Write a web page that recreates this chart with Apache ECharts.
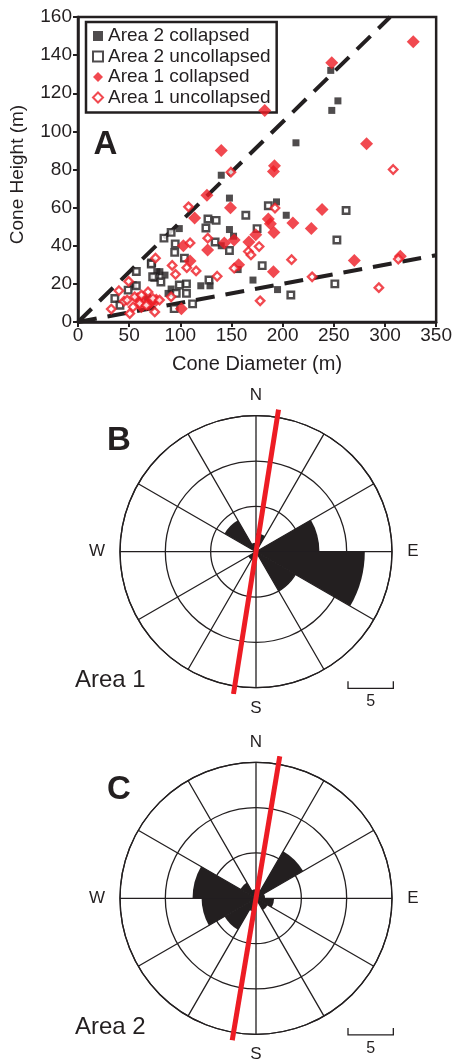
<!DOCTYPE html>
<html><head><meta charset="utf-8">
<script src="https://cdn.jsdelivr.net/npm/echarts@6/dist/echarts.min.js"></script>
<style>html,body{margin:0;padding:0;background:#fff}#c{width:455px;height:1060px}</style>
</head><body><div id="c"></div>
<script>
// ---- Panel A data: [cone diameter (m), cone height (m)] ----
const area2Collapsed = [
  [247,132],[254,116],[248,111],[213,94],[140,77],[148,65],[194,63],[203.5,56],
  [148,48.5],[152,45],[140,40],[99,49],[156.5,27.5],[171,22],[120,19],[129,19],
  [195,17],[54,19.5],[91,17.3],[80,26.4],[85,24.6],[77,26.4],[68,13],[88,15]
];
const area2Uncollapsed = [
  [186,61],[262,58.5],[164,56],[127,54],[135,53.3],[125,49.3],[175,49],[134,42],
  [148,37.5],[253,43],[180,29.6],[128,22],[106,20],[106,15],[112,9.5],[251,20],
  [208,14.2],[104,33.5],[84,44],[91,47],[95,41],[94.5,36.5],[72,31],[75,23.5],
  [81,21],[57,26.5],[57,19],[36,12.3],[41,8.8],[49,16.7],[99,19.4],[96,15],
  [94,7],[73,23.7],[71.6,30.4]
];
const area1Collapsed = [
  [327.6,147],[248,136],[182.5,111],[140,90],[282,93.5],[192,82],[191,79],[126,66.5],
  [149,60],[114,54.6],[238.5,59],[186,54],[188,51.5],[191.5,47],[210,52],[228,49],
  [173.7,45.8],[167,42],[152.6,43],[143,41.5],[126.7,37.8],[103,40],[109.5,32],[157,30],
  [191,26.4],[270,32.2],[315,34.5],[58.6,12.3],[65,11.5],[71.6,10.6],[76.5,11.5],[62,8],
  [101,7],[69,9]
];
const area1Uncollapsed = [
  [149.4,78.6],[308,80],[108,60.4],[192.5,59.8],[126.8,44],[109.5,41.5],[177,39.6],[166.5,37],
  [169,35.2],[208.7,32.7],[152.6,28.2],[106.3,28.5],[115.4,26.8],[136,24],[228.8,23.7],[294,18],
  [178,11.1],[313,33],[75.7,33.5],[92,29.7],[95.3,25],[49.5,21.3],[40,16.4],[45,10.9],
  [32.5,6.8],[48,11.5],[55.4,13.2],[62,14.1],[68.4,15.8],[73.2,12.3],[79.7,11.5],[60.3,9.7],
  [66.8,8.8],[53.8,7.9],[50.6,4.4],[75,5.3],[91,13.2]
];
// dashed bounding lines
const upperLine = [[0,0],[305,160]];
const lowerLine = [[0,0],[350,35]];
const xTicks = {min:0, max:350, interval:50};
const yTicks = {min:0, max:160, interval:20};

// ---- Panels B & C: rose diagrams (30° sectors, clockwise from N) ----
const roseSectors = ['0-30','30-60','60-90','90-120','120-150','150-180','180-210','210-240','240-270','270-300','300-330','330-360'];
const roseArea1 = [2, 0, 7, 12, 5, 0, 1, 1, 0, 0, 4, 1];
const roseArea2 = [1, 6, 1, 2, 1.5, 0, 1.5, 4, 6, 7, 2, 1];
const roseMax = 15, roseRing = 5;
const meanArea1 = 9;     // degrees from N
const meanArea2 = 9.5;
const meanLineLen = 15.9;

const INK = '#231f20', RED = '#ed1c24';
const FONT = '"Liberation Sans", Arial, Helvetica, sans-serif';

const chart = echarts.init(document.getElementById('c'), null, {renderer:'canvas'});

const R = 136;
const pxPerUnit = R / roseMax;
const centers = [[256, 551.7], [256, 898.3]];

const polar = [];
const angleAxis = [];
const radiusAxis = [];
for (let i = 0; i < 2; i++) {
  polar.push({center: centers[i], radius: R});
  polar.push({center: centers[i], radius: meanLineLen * pxPerUnit});
  angleAxis.push({
    polarIndex: i*2, type:'category', data: roseSectors, startAngle: 90, clockwise: true,
    boundaryGap: true,
    axisLine:{show:true, lineStyle:{color:INK, width:1.3}},
    axisTick:{show:false}, axisLabel:{show:false},
    splitLine:{show:true, lineStyle:{color:INK, width:1.3}}
  });
  angleAxis.push({
    polarIndex: i*2+1, type:'value', min:0, max:360, startAngle:90, clockwise:true, show:false
  });
  radiusAxis.push({
    polarIndex: i*2, type:'value', min:0, max:roseMax, interval:roseRing,
    axisLine:{show:false}, axisTick:{show:false}, axisLabel:{show:false},
    splitLine:{show:true, lineStyle:{color:INK, width:1.3}}
  });
  radiusAxis.push({
    polarIndex: i*2+1, type:'value', min:0, max:meanLineLen, show:false
  });
}

function meanLine(idx, ang) {
  return {
    type:'line', coordinateSystem:'polar', polarIndex: idx,
    data: [[meanLineLen, ang], [meanLineLen, ang + 180]],
    symbol:'none', clip:false, z:10, silent:true,
    lineStyle:{color:RED, width:5, cap:'butt'}
  };
}

function scaleBar(cy) {
  const y = cy + 136.6;
  const x0 = 348, x1 = 348 + roseRing * pxPerUnit;
  return [
    {type:'polyline', shape:{points:[[x0,y-7],[x0,y],[x1,y],[x1,y-7]]}, style:{stroke:INK, lineWidth:1.3, fill:null}},
    {type:'text', x:(x0+x1)/2, y:y+13.5, style:{text:'5', font:'16px '+FONT, fill:INK, align:'center', verticalAlign:'middle'}}
  ];
}
function compass(c) {
  const [cx, cy] = c;
  const f = '17px ' + FONT;
  return [
    {type:'text', x:cx, y:cy-156, style:{text:'N', font:f, fill:INK, align:'center', verticalAlign:'middle'}},
    {type:'text', x:cx, y:cy+156.5, style:{text:'S', font:f, fill:INK, align:'center', verticalAlign:'middle'}},
    {type:'text', x:cx-159, y:cy, style:{text:'W', font:f, fill:INK, align:'center', verticalAlign:'middle'}},
    {type:'text', x:cx+157, y:cy, style:{text:'E', font:f, fill:INK, align:'center', verticalAlign:'middle'}}
  ];
}

const option = {
  animation:false,
  backgroundColor:'#fff',
  textStyle:{fontFamily:FONT},
  grid:{left:78, top:17, width:360, height:305, show:true, borderColor:INK, borderWidth:2.5, backgroundColor:'transparent'},
  xAxis:{
    type:'value', min:xTicks.min, max:xTicks.max, interval:xTicks.interval,
    name:'Cone Diameter (m)', nameLocation:'middle', nameGap:32,
    nameTextStyle:{fontSize:20, color:INK, fontFamily:FONT},
    axisLine:{show:true, lineStyle:{color:INK, width:2.5}},
    axisTick:{show:true, inside:false, length:5, lineStyle:{color:INK, width:2}},
    axisLabel:{fontSize:19, color:INK, margin:4, fontFamily:FONT},
    splitLine:{show:false}
  },
  yAxis:{
    type:'value', min:yTicks.min, max:yTicks.max, interval:yTicks.interval,
    name:'Cone Height (m)', nameLocation:'middle', nameGap:51, nameRotate:90,
    nameTextStyle:{fontSize:19, color:INK, fontFamily:FONT, padding:[0,10,0,0]},
    axisLine:{show:true, lineStyle:{color:INK, width:2.5}},
    axisTick:{show:true, inside:false, length:5, lineStyle:{color:INK, width:2}},
    axisLabel:{fontSize:19, color:INK, margin:6, fontFamily:FONT},
    splitLine:{show:false}
  },
  legend:{
    left:86, top:22, orient:'vertical',
    data:['Area 2 collapsed','Area 2 uncollapsed','Area 1 collapsed','Area 1 uncollapsed'],
    borderColor:INK, borderWidth:2.5, padding:[4,6,5,6], itemGap:0.5,
    itemWidth:10, itemHeight:10,
    textStyle:{fontSize:19, color:INK, lineHeight:20, fontFamily:FONT},
    backgroundColor:'#fff'
  },
  polar: polar,
  angleAxis: angleAxis,
  radiusAxis: radiusAxis,
  series:[
    {type:'line', data:upperLine, symbol:'none', z:1, silent:true,
     lineStyle:{color:INK, width:4, type:[19,11], cap:'butt'}},
    {type:'line', data:lowerLine, symbol:'none', z:1, silent:true,
     lineStyle:{color:INK, width:4, type:[19,11], cap:'butt'}},
    {name:'Area 2 collapsed', type:'scatter', data:area2Collapsed, symbol:'rect', symbolSize:7,
     itemStyle:{color:INK}, z:3},
    {name:'Area 2 uncollapsed', type:'scatter', data:area2Uncollapsed, symbol:'rect', symbolSize:6.5,
     itemStyle:{color:'#fff', borderColor:INK, borderWidth:2.4}, z:3},
    {name:'Area 1 collapsed', type:'scatter', data:area1Collapsed, symbol:'diamond', symbolSize:13,
     itemStyle:{color:RED}, z:4},
    {name:'Area 1 uncollapsed', type:'scatter', data:area1Uncollapsed, symbol:'diamond', symbolSize:8.5,
     itemStyle:{color:'#fff', borderColor:RED, borderWidth:2.3}, z:4},
    {type:'bar', coordinateSystem:'polar', polarIndex:0, data:roseArea1, barCategoryGap:'0%',
     itemStyle:{color:INK}, z:3, silent:true},
    {type:'bar', coordinateSystem:'polar', polarIndex:2, data:roseArea2, barCategoryGap:'0%',
     itemStyle:{color:INK}, z:3, silent:true},
    meanLine(1, meanArea1),
    meanLine(3, meanArea2)
  ],
  graphic:[].concat(
    [
      {type:'text', x:105.5, y:145, style:{text:'A', font:'bold 33px '+FONT, fill:INK, align:'center', verticalAlign:'middle'}},
      {type:'text', x:119, y:441, style:{text:'B', font:'bold 33px '+FONT, fill:INK, align:'center', verticalAlign:'middle'}},
      {type:'text', x:119, y:790, style:{text:'C', font:'bold 33px '+FONT, fill:INK, align:'center', verticalAlign:'middle'}},
      {type:'text', x:75, y:680, style:{text:'Area 1', font:'24px '+FONT, fill:INK, align:'left', verticalAlign:'middle'}},
      {type:'text', x:75, y:1027, style:{text:'Area 2', font:'24px '+FONT, fill:INK, align:'left', verticalAlign:'middle'}}
    ],
    compass(centers[0]), compass(centers[1]),
    scaleBar(centers[0][1]), scaleBar(centers[1][1])
  )
};
chart.setOption(option);
</script>
</body></html>
